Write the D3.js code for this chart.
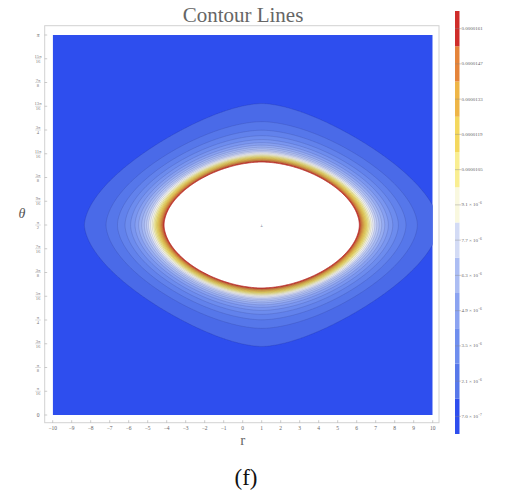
<!DOCTYPE html>
<html>
<head>
<meta charset="utf-8">
<script src="https://cdn.jsdelivr.net/npm/d3@7"></script>
<style>
  body { margin: 0; background: #fff; }
  text { font-family: "Liberation Serif", "DejaVu Serif", serif; }
</style>
</head>
<body>
<svg id="chart" width="511" height="493"></svg>
<script>
// ---- data ---------------------------------------------------------------
// contour levels of the plotted quantity (equal steps of 7×10⁻⁷)
const levels = [
  7.0e-7, 1.4e-6, 2.1e-6, 2.8e-6, 3.5e-6, 4.2e-6, 4.9e-6, 5.6e-6,
  6.3e-6, 7.0e-6, 7.7e-6, 8.4e-6, 9.1e-6, 9.8e-6, 1.05e-5, 1.12e-5,
  1.19e-5, 1.26e-5, 1.33e-5, 1.40e-5, 1.47e-5, 1.54e-5, 1.61e-5, 1.68e-5
];
// legend ticks and their printed labels: [mantissa, exponent] or plain text
const legendTicks = [7.0e-7, 2.1e-6, 3.5e-6, 4.9e-6, 6.3e-6, 7.7e-6,
                     9.1e-6, 1.05e-5, 1.19e-5, 1.33e-5, 1.47e-5, 1.61e-5];
const legendLabels = [["7.0", "−7"], ["2.1", "−6"], ["3.5", "−6"], ["4.9", "−6"],
                      ["6.3", "−6"], ["7.7", "−6"], ["9.1", "−6"],
                      "0.0000105", "0.0000119", "0.0000133", "0.0000147", "0.0000161"];
// colour scale (value → colour)
const paletteValues = [0, 7.0e-7, 1.4e-6, 2.8e-6, 4.2e-6, 5.6e-6, 7.0e-6, 7.7e-6, 8.4e-6,
                       9.1e-6, 9.8e-6, 1.12e-5, 1.26e-5, 1.40e-5, 1.54e-5, 1.61e-5];
const paletteColors = ["#2e4eee", "#4a6ae8", "#5677ea", "#6d8cee", "#87a0f1", "#a6b9f3",
                       "#c6d1f5", "#e2e7f6", "#f6f6ee", "#fbf9d2", "#faf3a6", "#f6e268",
                       "#f1c64c", "#e99c3f", "#e06835", "#cf2d2a"];
// axes
const rTicks = [-10, -9, -8, -7, -6, -5, -4, -3, -2, -1, 0, 1, 2, 3, 4, 5, 6, 7, 8, 9, 10];
const thetaTicks = [0, 1, 2, 3, 4, 5, 6, 7, 8, 9, 10, 11, 12, 13, 14, 15, 16]; // in units of π/16
// contour geometry: centre, then [half-width in r, half-height in θ, exponent]
// of the outermost contour and of the innermost (red) one
const fieldCentre = [1.0, Math.PI / 2];
const outerContour = [9.33, 1.004, 1.7];
const innerContour = [5.16, 0.523, 1.85];
const innerLevel = 1.645e-5;

// ---- layout -------------------------------------------------------------
const svg = d3.select("#chart");
const plot = { left: 52.7, right: 432.7, top: 35, bottom: 415 };
const x = d3.scaleLinear().domain([-10, 10]).range([plot.left, plot.right]);
const y = d3.scaleLinear().domain([0, Math.PI]).range([plot.bottom, plot.top]);
const color = d3.scaleLinear().domain(paletteValues).range(paletteColors)
  .interpolate(d3.interpolateRgb).clamp(true);

// power-law decay fixed by the two reference contours
const decay = Math.log(innerLevel / levels[0]) / Math.log(outerContour[0] / innerContour[0]);
// angular stretch of each reference contour: B·sin(halfHeight) = halfWidth
const stretchOuter = outerContour[0] / Math.sin(outerContour[1]);
const stretchInner = innerContour[0] / Math.sin(innerContour[1]);

// contour of half-width s:  |Δr|^p + |B·sin Δθ|^p = s^p, B and p blended inner → outer
function shapeAt(s) {
  const t = Math.max(0, Math.min(1, (s - innerContour[0]) / (outerContour[0] - innerContour[0])));
  return [stretchInner * (1 - t) + stretchOuter * t, innerContour[2] * (1 - t) + outerContour[2] * t];
}
function field(r, th) {
  const du = Math.abs(r - fieldCentre[0]);
  const sv = Math.abs(Math.sin(th - fieldCentre[1]));
  let lo = 1e-4, hi = 60;
  for (let it = 0; it < 32; it++) {
    const s = (lo + hi) / 2;
    const [B, p] = shapeAt(s);
    const g = Math.pow(du / s, p) + Math.pow(B * sv / s, p);
    if (g > 1) lo = s; else hi = s;
  }
  const s = (lo + hi) / 2;
  return levels[0] * Math.pow(s / outerContour[0], -decay);
}

// sample the field on a grid covering the plot
const nx = 400, ny = 400;
const grid = new Float64Array(nx * ny);
for (let j = 0; j < ny; j++) {
  const th = Math.PI - j * Math.PI / (ny - 1);
  for (let i = 0; i < nx; i++) {
    const r = -10 + i * 20 / (nx - 1);
    grid[j * nx + i] = field(r, th);
  }
}
const bands = d3.contours().size([nx, ny]).thresholds(levels)(grid);
const proj = d3.geoTransform({
  point(px, py) {
    const r = -10 + (px - 0.5) * 20 / (nx - 1);
    const th = Math.PI - (py - 0.5) * Math.PI / (ny - 1);
    this.stream.point(x(r), y(th));
  }
});
const path = d3.geoPath(proj);

// frame
svg.append("rect").attr("x", 44.7).attr("y", 25.7).attr("width", 439 - 44.7).attr("height", 422.7 - 25.7)
  .attr("fill", "none").attr("stroke", "#d2d2d2").attr("stroke-width", 1);

svg.append("clipPath").attr("id", "plotClip").append("rect")
  .attr("x", plot.left).attr("y", plot.top)
  .attr("width", plot.right - plot.left).attr("height", plot.bottom - plot.top);

const g = svg.append("g").attr("clip-path", "url(#plotClip)");
g.append("rect").attr("x", plot.left).attr("y", plot.top)
  .attr("width", plot.right - plot.left).attr("height", plot.bottom - plot.top)
  .attr("fill", color(0));

// each band is coloured by its lower level; values above the top level are left white
g.selectAll("path.band").data(bands).join("path")
  .attr("class", "band")
  .attr("d", path)
  .attr("fill", (d, i) => i + 1 < levels.length ? color(levels[i]) : "#ffffff")
  .attr("stroke", (d, i) => i + 1 < levels.length ? "rgba(30,30,90,0.28)" : "#b5302a")
  .attr("stroke-width", (d, i) => i + 1 < levels.length ? 0.5 : 0.8);

// small marker at the centre of the field
g.append("text").attr("x", x(fieldCentre[0])).attr("y", y(fieldCentre[1]) + 1.5)
  .attr("text-anchor", "middle").attr("font-size", 5).attr("fill", "#1b2a5c")
  .attr("font-family", "DejaVu Sans").text("±");

// x axis
const tickColor = "#999";
svg.selectAll("line.xt").data(rTicks).join("line").attr("class", "xt")
  .attr("x1", d => x(d)).attr("x2", d => x(d)).attr("y1", 422.7).attr("y2", 420.2)
  .attr("stroke", tickColor).attr("stroke-width", 0.5);
svg.selectAll("text.xl").data(rTicks).join("text").attr("class", "xl")
  .attr("x", d => x(d)).attr("y", 429.5).attr("text-anchor", "middle")
  .attr("font-size", 5.5).attr("fill", "#666")
  .text(d => d < 0 ? "−" + Math.abs(d) : d);
svg.append("text").attr("x", x(0)).attr("y", 445).attr("text-anchor", "middle")
  .attr("font-size", 15).attr("fill", "#666").text("r");

// θ axis with fractional labels of π
function gcd(a, b) { return b ? gcd(b, a % b) : a; }
svg.selectAll("line.yt").data(thetaTicks).join("line").attr("class", "yt")
  .attr("x1", 44.7).attr("x2", 47.2).attr("y1", d => y(d * Math.PI / 16)).attr("y2", d => y(d * Math.PI / 16))
  .attr("stroke", tickColor).attr("stroke-width", 0.5);
const yl = svg.selectAll("g.yl").data(thetaTicks).join("g").attr("class", "yl")
  .attr("transform", d => `translate(38,${y(d * Math.PI / 16)})`);
yl.each(function (k) {
  const sel = d3.select(this);
  const fs = 4.6;
  if (k === 0) {
    sel.append("text").attr("y", 1.6).attr("text-anchor", "middle").attr("font-size", 5.5).attr("fill", "#666").text("0");
    return;
  }
  const gd = gcd(k, 16), num = k / gd, den = 16 / gd;
  const numText = (num === 1 ? "" : num) + "π";
  if (den === 1) {
    sel.append("text").attr("y", 1.8).attr("text-anchor", "middle").attr("font-size", 5.5)
      .attr("font-style", "italic").attr("fill", "#666").text("π");
    return;
  }
  sel.append("text").attr("y", -0.8).attr("text-anchor", "middle").attr("font-size", fs).attr("fill", "#777").text(numText);
  sel.append("line").attr("x1", -2.8).attr("x2", 2.8).attr("y1", 0).attr("y2", 0).attr("stroke", "#999").attr("stroke-width", 0.35);
  sel.append("text").attr("y", 4).attr("text-anchor", "middle").attr("font-size", fs).attr("fill", "#777").text(den);
});
svg.append("text").attr("x", 22).attr("y", 218).attr("text-anchor", "middle")
  .attr("font-size", 14).attr("font-style", "italic").attr("fill", "#555").text("θ");

// title and caption
svg.append("text").attr("x", 243).attr("y", 22).attr("text-anchor", "middle")
  .attr("font-size", 21).attr("fill", "#666").text("Contour Lines");
svg.append("text").attr("x", 246).attr("y", 485).attr("text-anchor", "middle")
  .attr("font-size", 23).attr("fill", "#111").text("(f)");

// legend bar: twelve segments centred on the ticks
const ly = d3.scaleLinear().domain([0, 1.68e-5]).range([434, 11]);
const legendBands = legendTicks.map((t, i) => ({ lo: t - 7e-7, hi: t + 7e-7, c: color(i / (legendTicks.length - 1) * legendTicks[legendTicks.length - 1]) }));
svg.selectAll("rect.lb").data(legendBands).join("rect").attr("class", "lb")
  .attr("x", 455).attr("width", 4.5)
  .attr("y", d => ly(d.hi)).attr("height", d => ly(d.lo) - ly(d.hi))
  .attr("fill", d => d.c);
svg.selectAll("line.lt").data(legendTicks).join("line").attr("class", "lt")
  .attr("x1", 455).attr("x2", 461).attr("y1", d => ly(d)).attr("y2", d => ly(d))
  .attr("stroke", "#888").attr("stroke-width", 0.4);
const lt = svg.selectAll("text.ll").data(legendTicks).join("text").attr("class", "ll")
  .attr("x", 461.5).attr("y", d => ly(d) + 1.6)
  .attr("font-size", 5).attr("fill", "#666").attr("font-family", "Liberation Sans, sans-serif");
lt.each(function (d, i) {
  const lab = legendLabels[i];
  const t = d3.select(this);
  if (typeof lab === "string") { t.text(lab); return; }
  t.append("tspan").text(lab[0] + " × 10");
  t.append("tspan").attr("dy", -2).attr("font-size", 3.6).text(lab[1]);
});
</script>
</body>
</html>
